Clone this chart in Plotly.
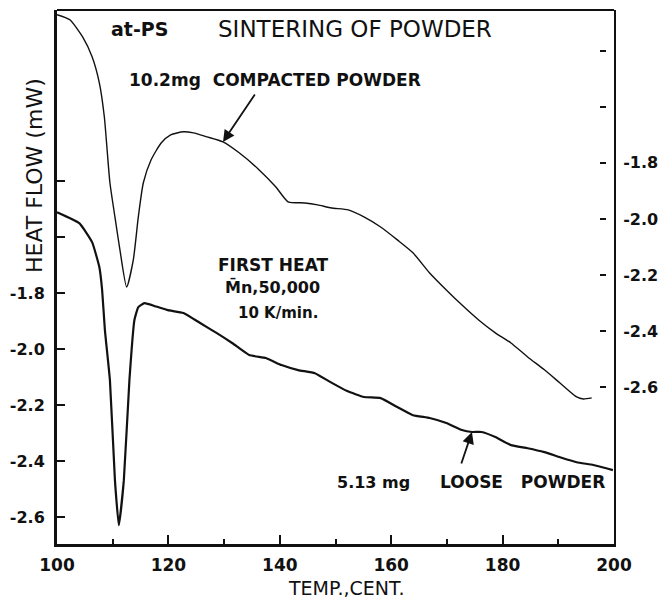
import plotly.graph_objects as go

# ---- data ----
T_loose = [100.0, 104.0, 106.3, 107.6, 108.1, 108.6, 109.5, 110.4, 111.1, 112.0, 113.0, 113.9,
           114.6, 115.7, 117.8, 119.9, 122.7, 125.7, 128.7, 131.5, 134.5, 137.5, 140.3, 143.3,
           146.3, 149.1, 152.1, 155.1, 158.1, 161.1, 163.9, 166.9, 169.9, 172.7, 174.5, 176.2,
           178.7, 181.5, 184.5, 187.5, 190.3, 193.3, 196.3, 199.8]
Q_loose = [-1.511, -1.55, -1.618, -1.707, -1.789, -1.932, -2.111, -2.468, -2.629, -2.468, -2.111,
           -1.896, -1.85, -1.836, -1.848, -1.861, -1.871, -1.907, -1.943, -1.979, -2.021, -2.032,
           -2.057, -2.075, -2.086, -2.118, -2.150, -2.171, -2.175, -2.207, -2.236, -2.246, -2.264,
           -2.289, -2.296, -2.296, -2.314, -2.343, -2.354, -2.368, -2.386, -2.404, -2.414, -2.432]

T_comp = [100.0, 102.3, 104.6, 106.3, 107.6, 108.5, 109.0, 109.5, 110.4, 111.3, 112.5, 113.7,
          114.6, 115.5, 116.9, 118.7, 120.4, 122.7, 124.5, 126.9, 129.8, 132.7, 136.3, 139.3,
          141.5, 144.5, 146.8, 149.3, 152.3, 155.1, 158.1, 161.1, 163.9, 166.9, 169.9, 171.7,
          175.7, 178.7, 181.5, 184.5, 187.5, 190.3, 193.3, 194.5, 196.0]
Q_comp = [-1.271, -1.289, -1.35, -1.421, -1.514, -1.636, -1.754, -1.871, -1.993, -2.111, -2.243,
          -2.146, -1.993, -1.871, -1.789, -1.729, -1.70, -1.689, -1.693, -1.707, -1.725, -1.764,
          -1.825, -1.886, -1.939, -1.943, -1.95, -1.961, -1.968, -1.993, -2.029, -2.075, -2.121,
          -2.193, -2.254, -2.289, -2.361, -2.407, -2.443, -2.493, -2.539, -2.586, -2.636, -2.643,
          -2.639]

x_ticks = [100, 120, 140, 160, 180, 200]
x_minor = [110, 130, 150, 170, 190]
y_ticks = [-2.6, -2.4, -2.2, -2.0, -1.8, -1.6, -1.4]
y_labels = ["-2.6", "-2.4", "-2.2", "-2.0", "-1.8", "", ""]

FONT = "DejaVu Sans"
BLACK = "#111111"

fig = go.Figure()
fig.add_trace(go.Scatter(x=T_comp, y=Q_comp, mode="lines", yaxis="y2",
                         line=dict(color=BLACK, width=1.4, shape="spline", smoothing=0.6),
                         showlegend=False, hoverinfo="skip"))
fig.add_trace(go.Scatter(x=T_loose, y=Q_loose, mode="lines", yaxis="y",
                         line=dict(color=BLACK, width=2.2, shape="spline", smoothing=0.4),
                         showlegend=False, hoverinfo="skip"))
fig.add_trace(go.Scatter(x=[], y=[], yaxis="y3", showlegend=False, hoverinfo="skip"))

tick_font = dict(family=FONT, size=16, color=BLACK, weight="bold")

# the page body has an 8px default margin, so the figure is sized to fit the window
fig.update_layout(
    width=652, height=590,
    margin=dict(l=45, r=38, t=2, b=54),
    paper_bgcolor="white", plot_bgcolor="white",
    font=dict(family=FONT, color=BLACK),
    xaxis=dict(range=[100, 200], tickvals=x_ticks, ticks="inside", ticklen=9, tickwidth=2,
               tickcolor=BLACK, showline=True, linewidth=3, linecolor=BLACK, showgrid=False,
               zeroline=False, tickfont=dict(family=FONT, size=17, color=BLACK, weight="bold"),
               ticklabelstandoff=4,
               minor=dict(tickvals=x_minor, ticks="inside", ticklen=5, tickwidth=2,
                          tickcolor=BLACK, showgrid=False)),
    yaxis=dict(range=[-2.696, -0.789], tickvals=y_ticks, ticktext=y_labels, ticks="inside",
               ticklen=8, tickwidth=2, tickcolor=BLACK, showline=True, linewidth=3,
               linecolor=BLACK, showgrid=False, zeroline=False, tickfont=tick_font,
               ticklabelstandoff=6),
    yaxis2=dict(range=[-3.161, -1.254], overlaying="y", side="right", anchor="x",
                tickvals=y_ticks, ticktext=y_labels, ticks="", showline=True, linewidth=2,
                linecolor=BLACK, showgrid=False, zeroline=False, tickfont=tick_font,
                ticklabelstandoff=4),
    yaxis3=dict(range=[-3.161, -1.254], overlaying="y", side="right", anchor="free",
                position=0.9736, tickvals=y_ticks, ticks="outside", ticklen=6, tickwidth=2,
                tickcolor=BLACK, showline=False, showticklabels=False, showgrid=False,
                zeroline=False),
)

fig.add_shape(type="line", xref="paper", yref="paper", x0=0, x1=1, y0=1, y1=1,
              line=dict(color=BLACK, width=2))

def txt(x, y, s, size, weight="normal", yref="y"):
    fig.add_annotation(x=x, y=y, xref="x", yref=yref, text=s, showarrow=False,
                       font=dict(family=FONT, size=size, color=BLACK, weight=weight),
                       xanchor="center", yanchor="middle")

txt(114.8, -0.857, "at-PS", 19, "bold")
txt(153.5, -0.857, "SINTERING OF POWDER", 23)
txt(139.1, -1.039, "10.2mg  COMPACTED POWDER", 17, "bold")
txt(138.7, -1.700, "FIRST HEAT", 17, "bold")
txt(138.7, -1.779, "M\u0304n,50,000", 16, "bold")
txt(139.6, -1.871, "10 K/min.", 15, "bold")
txt(156.9, -2.475, "5.13 mg", 16, "bold")
txt(183.6, -2.475, "LOOSE   POWDER", 17, "bold")

# arrows
fig.add_annotation(x=129.8, y=-1.725, xref="x", yref="y2", ax=135.7, ay=-1.55,
                   axref="x", ayref="y2", text="", showarrow=True, arrowhead=2,
                   arrowsize=1.3, arrowwidth=1.8, arrowcolor=BLACK)
fig.add_annotation(x=174.5, y=-2.296, xref="x", yref="y", ax=172.5, ay=-2.414,
                   axref="x", ayref="y", text="", showarrow=True, arrowhead=2,
                   arrowsize=1.3, arrowwidth=1.8, arrowcolor=BLACK)

# axis titles
fig.add_annotation(x=-0.0404, y=0.69, xref="paper", yref="paper", text="HEAT FLOW (mW)",
                   textangle=-90, showarrow=False, xanchor="center", yanchor="middle",
                   font=dict(family=FONT, size=22, color=BLACK))
fig.add_annotation(x=0.518, y=-0.082, xref="paper", yref="paper", text="TEMP.,CENT.",
                   showarrow=False, xanchor="center", yanchor="middle",
                   font=dict(family=FONT, size=19, color=BLACK))

fig.write_html("out.html")
